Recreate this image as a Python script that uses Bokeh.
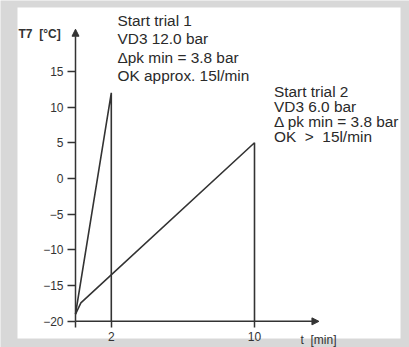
from bokeh.plotting import figure
from bokeh.models import (Range1d, FixedTicker, Arrow, NormalHead, Label, ColumnDataSource,
                          BoxAnnotation)
from bokeh.core.properties import value
from bokeh.embed import file_html
from bokeh.resources import INLINE

# ---- data ----
y_ticks = [-20, -15, -10, -5, 0, 5, 10, 15]
x_ticks = [0, 2, 10]
x_tick_labels = {0: "", 2: "2", 10: "10"}

trial1_t = [0, 2, 2]
trial1_T = [-19, 12, -20]
trial2_t = [0, 0.3, 10, 10]
trial2_T = [-19, -17.4, 5, -20]

trial1_text = ["Start trial 1", "VD3 12.0 bar", "\u0394pk min = 3.8 bar", "OK approx. 15l/min"]
trial2_text = ["Start trial 2", "VD3 6.0 bar", "\u0394 pk min = 3.8 bar", "OK\u00a0\u00a0>\u00a0\u00a015l/min"]

y_label = "T7\u00a0\u00a0[\u00b0C]"
x_label = "t\u00a0\u00a0[min]"

x_axis_end = 13.6
y_axis_end = 20.9

# ---- layout (pixels of the picture) ----
W, H = 409, 347
X0 = 75.0            # pixel column of t = 0
Y0 = 178.0           # pixel row of T = 0
PX_X = 17.9          # px per minute
PX_Y = 7.143         # px per degree
PAPER = (17, 7, 400, 338)   # left, top, right, bottom of the white sheet (px)
INK = "#333333"
FONT = "Liberation Sans"


def dx(px):
    return (px - X0) / PX_X


def dy(py):
    return (Y0 - py) / PX_Y


p = figure(width=W, height=H, output_backend="svg", toolbar_location=None,
           x_range=Range1d(dx(0), dx(W)), y_range=Range1d(dy(H), dy(0)),
           min_border=0)
p.outline_line_color = None
p.grid.visible = False
p.background_fill_color = "#d8d8d8"
p.border_fill_color = "#d8d8d8"

p.add_layout(BoxAnnotation(left=dx(PAPER[0]), right=dx(PAPER[2]), top=dy(PAPER[1]),
                           bottom=dy(PAPER[3]), fill_color="white", fill_alpha=1.0,
                           line_color=None, level="underlay"))

ya = p.yaxis[0]
ya.fixed_location = 0
ya.ticker = FixedTicker(ticks=y_ticks)
ya.axis_line_color = None
ya.major_tick_in = 0
ya.major_tick_out = 8
ya.major_tick_line_color = INK
ya.major_tick_line_width = 1.5
ya.minor_tick_line_color = None
ya.major_label_standoff = 4
ya.major_label_text_font = FONT
ya.major_label_text_font_size = "12px"
ya.major_label_text_color = INK

xa = p.xaxis[0]
xa.fixed_location = y_ticks[0]
xa.ticker = FixedTicker(ticks=x_ticks)
xa.major_label_overrides = x_tick_labels
xa.axis_line_color = None
xa.major_tick_in = 0
xa.major_tick_out = 6
xa.major_tick_line_color = INK
xa.major_tick_line_width = 1.5
xa.minor_tick_line_color = None
xa.major_label_standoff = 5
xa.major_label_text_font = FONT
xa.major_label_text_font_size = "12px"
xa.major_label_text_color = INK

# axes lines with arrow heads
p.add_layout(Arrow(x_start=0, y_start=y_ticks[0], x_end=x_axis_end, y_end=y_ticks[0],
                   line_color=INK, line_width=1.5,
                   end=NormalHead(size=7, fill_color=INK, line_color=INK, line_width=1)))
p.add_layout(Arrow(x_start=0, y_start=y_ticks[0], x_end=0, y_end=y_axis_end,
                   line_color=INK, line_width=1.5,
                   end=NormalHead(size=7, fill_color=INK, line_color=INK, line_width=1)))

# trial curves
p.line(trial1_t, trial1_T, line_color=INK, line_width=1.6)
p.line(trial2_t, trial2_T, line_color=INK, line_width=1.6)


# annotation texts
def block(lines, x_px, base_px, step_px):
    src = ColumnDataSource(dict(x=[dx(x_px)] * len(lines),
                                y=[dy(base_px + i * step_px) for i in range(len(lines))],
                                text=lines))
    p.text("x", "y", "text", source=src, text_font=value(FONT), text_font_size="15.4px",
           text_color="#2a2a2a", text_baseline="alphabetic", text_align="left")


block(trial1_text, 117, 20.0, 18.3)
block(trial2_text, 273.5, 90.7, 15.1)

p.add_layout(Label(x=dx(18), y=dy(33), text=y_label, text_font=FONT, text_font_size="12px",
                   text_color=INK, text_font_style="bold", text_baseline="alphabetic"))
p.add_layout(Label(x=dx(300), y=dy(339), text=x_label, text_font=FONT, text_font_size="12px",
                   text_color=INK, text_baseline="alphabetic"))

open("out.html", "w").write(file_html(p, INLINE))
